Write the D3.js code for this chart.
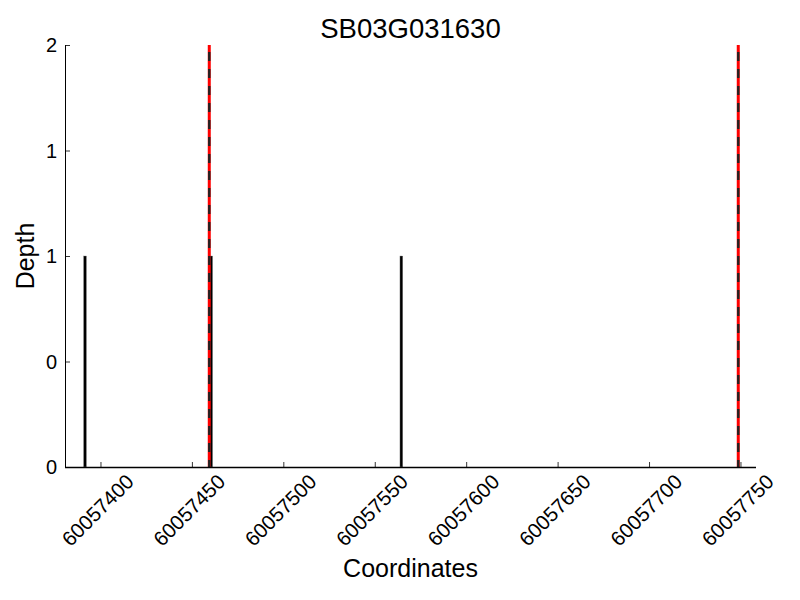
<!DOCTYPE html>
<html><head><meta charset="utf-8">
<script src="https://cdn.jsdelivr.net/npm/d3@7"></script>
<style>body{margin:0;background:#fff}text{font-family:"Liberation Sans",Arial,sans-serif}</style>
</head><body><svg id="c" width="800" height="600"></svg>
<script>
const title = "SB03G031630";
const barPositions = [60057391, 60057460, 60057564];
const barDepths = [1, 1, 1];
const markerPositions = [60057459.5, 60057748.8];
const xTicks = [60057400, 60057450, 60057500, 60057550, 60057600, 60057650, 60057700, 60057750];
const yTicks = [0, 0.5, 1, 1.5, 2];
const xDomain = [60057380.6, 60057758.5];
const yDomain = [0, 2];

const svg = d3.select("#c");
const L = 65, R = 756, T = 45, B = 467;
const x = d3.scaleLinear().domain(xDomain).range([L, R]);
const y = d3.scaleLinear().domain(yDomain).range([B, T]);

// bars
svg.append("g").selectAll("rect").data(barPositions).join("rect")
  .attr("x", d => x(d) - 0.4)
  .attr("width", d => Math.max(2.8, x(d + 1) - x(d) + 0.8))
  .attr("y", (d, i) => y(barDepths[i]))
  .attr("height", (d, i) => y(0) - y(barDepths[i]))
  .attr("fill", "#000").attr("stroke", "#888").attr("stroke-width", 0.4);

// marker lines
const mg = svg.append("g");
mg.selectAll("line.r").data(markerPositions).join("line").attr("class", "r")
  .attr("x1", d => x(d)).attr("x2", d => x(d)).attr("y1", y(2)).attr("y2", y(0))
  .attr("stroke", "#ff0000").attr("stroke-width", 3);
mg.selectAll("line.k").data(markerPositions).join("line").attr("class", "k")
  .attr("x1", d => x(d)).attr("x2", d => x(d)).attr("y1", y(2) + 7).attr("y2", y(0))
  .attr("stroke", "#222").attr("stroke-width", 2.4).attr("stroke-dasharray", "9,8");

// axes
const xa = svg.append("g").attr("transform", `translate(0,${B})`)
  .call(d3.axisBottom(x).tickValues(xTicks).tickSize(-5).tickFormat(""));
xa.select(".domain").attr("d", `M${L},0.5H${R}`).attr("stroke", "#000").attr("stroke-width", 1.3);
xa.selectAll(".tick line").attr("stroke", "#000").attr("stroke-width", 0.8);

const ya = svg.append("g").attr("transform", `translate(${L},0)`)
  .call(d3.axisLeft(y).tickValues(yTicks).tickSize(-5).tickFormat(""));
ya.select(".domain").attr("d", `M0.5,${T}V${B}`).attr("stroke", "#000").attr("stroke-width", 1);
ya.selectAll(".tick line").attr("stroke", "#000").attr("stroke-width", 0.8);

// x tick labels rotated
svg.append("g").selectAll("text").data(xTicks).join("text")
  .attr("transform", d => `translate(${x(d) - 3},${510}) rotate(-45)`)
  .attr("text-anchor", "middle").attr("dominant-baseline", "central")
  .attr("font-size", 20.5).attr("fill", "#000")
  .text(d => d3.format("d")(d));

// y tick labels (integer formatted)
svg.append("g").selectAll("text").data(yTicks).join("text")
  .attr("x", 57).attr("y", d => y(d)).attr("dy", "0.35em")
  .attr("text-anchor", "end").attr("font-size", 20).attr("fill", "#000")
  .text(d => d3.format("d")(Math.floor(d)));

svg.append("text").attr("x", (L + R) / 2).attr("y", 38).attr("text-anchor", "middle")
  .attr("font-size", 27.5).text(title);
svg.append("text").attr("x", (L + R) / 2).attr("y", 577).attr("text-anchor", "middle")
  .attr("font-size", 25).text("Coordinates");
svg.append("text").attr("transform", `translate(34,${(T + B) / 2}) rotate(-90)`)
  .attr("text-anchor", "middle").attr("font-size", 25).text("Depth");
</script></body></html>
